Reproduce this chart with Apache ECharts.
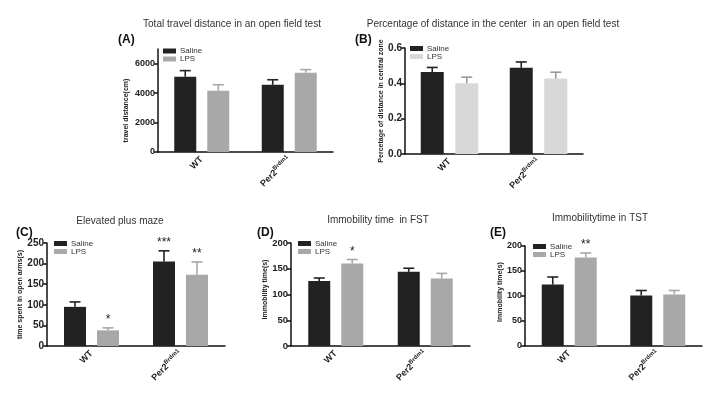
<!DOCTYPE html>
<html>
<head>
<meta charset="utf-8">
<script src="https://cdn.jsdelivr.net/npm/echarts@6/dist/echarts.min.js"></script>
<style>
  html, body { margin: 0; padding: 0; background: #fff; }
  #chart { width: 721px; height: 399px; }
</style>
</head>
<body>
<div id="chart"></div>
<script>
const categories = ["WT", "Per2^Brdm1"];

// (A) total travel distance
const aSaline = [5120, 4570];
const aSalineErr = [410, 340];
const aLps = [4160, 5390];
const aLpsErr = [410, 210];
const aTicks = [0, 2000, 4000, 6000];

// (B) percentage of distance in the center
const bSaline = [0.464, 0.488];
const bSalineErr = [0.026, 0.033];
const bLps = [0.401, 0.427];
const bLpsErr = [0.034, 0.036];
const bTicks = [0, 0.2, 0.4, 0.6];

// (C) elevated plus maze
const cSaline = [95, 205];
const cSalineErr = [12, 26];
const cLps = [38, 173];
const cLpsErr = [6, 31];
const cSalineSig = ["", "***"];
const cLpsSig = ["*", "**"];
const cTicks = [0, 50, 100, 150, 200, 250];

// (D) immobility time in FST
const dSaline = [126, 144];
const dSalineErr = [6, 7];
const dLps = [160, 131];
const dLpsErr = [8, 10];
const dLpsSig = ["*", ""];
const dTicks = [0, 50, 100, 150, 200];

// (E) immobility time in TST
const eSaline = [123, 101];
const eSalineErr = [15, 10];
const eLps = [177, 103];
const eLpsErr = [9, 8];
const eLpsSig = ["**", ""];
const eTicks = [0, 50, 100, 150, 200];

const FONT = "Liberation Sans";
const SALINE_COLOR = "#222222";
const LPS_COLOR = "#a8a8a8";
const LPS_LIGHT = "#d8d8d8";

const panels = [
  {
    tag: "(A)", title: "Total travel distance in an open field test", yName: "travel distance(cm)",
    saline: aSaline, salineErr: aSalineErr, lps: aLps, lpsErr: aLpsErr, ticks: aTicks, max: 7000,
    lpsColor: LPS_COLOR, lpsErrColor: LPS_COLOR,
    grid: { left: 158, top: 49, width: 175, height: 103 },
    titleXY: [232, 24], tagXY: [118, 40], legendXY: [163, 47],
    labelSize: 9, nameGap: 28, namePad: [0, 20, 0, 0], barW: 22,
  },
  {
    tag: "(B)", title: "Percentage of distance in the center  in an open field test",
    yName: "Percetage of distance in central zone",
    saline: bSaline, salineErr: bSalineErr, lps: bLps, lpsErr: bLpsErr, ticks: bTicks, max: 0.6,
    lpsColor: LPS_LIGHT, lpsErrColor: "#9a9a9a",
    grid: { left: 405, top: 48, width: 178, height: 106 },
    titleXY: [493, 24], tagXY: [355, 40], legendXY: [410, 44.5],
    labelSize: 10, nameGap: 18, namePad: 0, barW: 23, fmt: (v) => v.toFixed(1),
  },
  {
    tag: "(C)", title: "Elevated plus maze", yName: "time spent in open arms(s)",
    saline: cSaline, salineErr: cSalineErr, lps: cLps, lpsErr: cLpsErr, ticks: cTicks, max: 250,
    salineSig: cSalineSig, lpsSig: cLpsSig,
    lpsColor: LPS_COLOR, lpsErrColor: LPS_COLOR,
    grid: { left: 47, top: 243, width: 178, height: 103 },
    titleXY: [120, 221], tagXY: [16, 233], legendXY: [54, 239.5],
    labelSize: 10, nameGap: 21, namePad: 0, barW: 22,
  },
  {
    tag: "(D)", title: "Immobility time  in FST", yName: "Immobility time(s)",
    saline: dSaline, salineErr: dSalineErr, lps: dLps, lpsErr: dLpsErr, ticks: dTicks, max: 200,
    lpsSig: dLpsSig,
    lpsColor: LPS_COLOR, lpsErrColor: LPS_COLOR,
    grid: { left: 291, top: 243, width: 179, height: 103 },
    titleXY: [378, 220], tagXY: [257, 233], legendXY: [298, 239.5],
    labelSize: 9.5, nameGap: 22, namePad: [0, 0, 0, 10], barW: 22,
  },
  {
    tag: "(E)", title: "Immobilitytime in TST", yName: "Immobility time(s)",
    saline: eSaline, salineErr: eSalineErr, lps: eLps, lpsErr: eLpsErr, ticks: eTicks, max: 200,
    lpsSig: eLpsSig,
    lpsColor: LPS_COLOR, lpsErrColor: LPS_COLOR,
    grid: { left: 525, top: 246, width: 177, height: 100 },
    titleXY: [600, 218], tagXY: [490, 233], legendXY: [533, 242.5],
    labelSize: 9, nameGap: 21, namePad: [0, 0, 0, 8], barW: 22,
  },
];

function errorBar(offset, color, sig) {
  return function (params, api) {
    const c = api.value(0);
    const base = api.coord([c, api.value(1)]);
    const top = api.coord([c, api.value(1) + api.value(2)]);
    const x = base[0] + offset;
    const children = [
      { type: "line", shape: { x1: x, y1: base[1], x2: x, y2: top[1] }, style: { stroke: color, lineWidth: 1.6 } },
      { type: "line", shape: { x1: x - 5.5, y1: top[1], x2: x + 5.5, y2: top[1] }, style: { stroke: color, lineWidth: 1.6 } },
    ];
    const s = sig && sig[params.dataIndex];
    if (s) {
      children.push({
        type: "text", x: x, y: top[1] - 2,
        style: { text: s, fontSize: 12, fontFamily: FONT, fill: "#222", align: "center", verticalAlign: "bottom" },
      });
    }
    return { type: "group", children };
  };
}

const option = {
  animation: false,
  backgroundColor: "#fff",
  textStyle: { fontFamily: FONT },
  grid: [], xAxis: [], yAxis: [], legend: [], series: [], graphic: [],
};

panels.forEach((p, i) => {
  option.grid.push(p.grid);
  option.xAxis.push({
    type: "category", gridIndex: i, data: categories,
    axisLine: { lineStyle: { color: "#111", width: 1.5 } },
    axisTick: { alignWithLabel: true, length: 4, lineStyle: { color: "#111", width: 1.5 } },
    axisLabel: {
      interval: 0, rotate: 45, margin: 6, color: "#222",
      formatter: (v) => {
        const parts = v.split("^");
        return parts.length > 1 ? "{b|" + parts[0] + "}{s|" + parts[1] + "}" : "{b|" + v + "}";
      },
      rich: {
        b: { fontSize: 9, fontWeight: "bold", fontFamily: FONT, color: "#222", lineHeight: 12 },
        s: { fontSize: 6, fontWeight: "bold", fontFamily: FONT, color: "#222", lineHeight: 12, verticalAlign: "top" },
      },
    },
  });
  option.yAxis.push({
    type: "value", gridIndex: i, min: 0, max: p.max,
    name: p.yName, nameLocation: "middle", nameRotate: 90, nameGap: p.nameGap,
    nameTextStyle: { fontSize: 7, fontWeight: "bold", color: "#222", padding: p.namePad },
    splitLine: { show: false },
    axisLine: { show: true, lineStyle: { color: "#111", width: 1.5 } },
    axisTick: { show: true, length: 4, customValues: p.ticks, lineStyle: { color: "#111", width: 1.5 } },
    axisLabel: {
      customValues: p.ticks, margin: 3, fontSize: p.labelSize, fontWeight: "bold", color: "#222",
      formatter: p.fmt || ((v) => String(v)),
    },
  });
  option.legend.push({
    orient: "vertical", left: p.legendXY[0], top: p.legendXY[1], padding: 0,
    itemWidth: 13, itemHeight: 5, itemGap: 0, icon: "rect", selectedMode: false,
    textStyle: { fontSize: 8, lineHeight: 7, color: "#333", padding: [0, 0, 0, -1] },
    data: [
      { name: "Saline", itemStyle: { color: SALINE_COLOR } },
      { name: "LPS", itemStyle: { color: p.lpsColor } },
    ],
  });
  const off = (p.barW + p.barW / 2) / 2;
  option.series.push(
    {
      name: "Saline", type: "bar", xAxisIndex: i, yAxisIndex: i, data: p.saline,
      barWidth: p.barW, barGap: "50%", itemStyle: { color: SALINE_COLOR },
    },
    {
      name: "LPS", type: "bar", xAxisIndex: i, yAxisIndex: i, data: p.lps,
      barWidth: p.barW, barGap: "50%", itemStyle: { color: p.lpsColor },
    },
    {
      name: "Saline SEM", type: "custom", xAxisIndex: i, yAxisIndex: i, z: 5,
      data: p.saline.map((v, k) => [k, v, p.salineErr[k]]),
      encode: { x: 0, y: 1 },
      renderItem: errorBar(-off, SALINE_COLOR, p.salineSig),
    },
    {
      name: "LPS SEM", type: "custom", xAxisIndex: i, yAxisIndex: i, z: 5,
      data: p.lps.map((v, k) => [k, v, p.lpsErr[k]]),
      encode: { x: 0, y: 1 },
      renderItem: errorBar(off, p.lpsErrColor, p.lpsSig),
    }
  );
  option.graphic.push(
    {
      type: "text", x: p.titleXY[0], y: p.titleXY[1],
      style: { text: p.title, fontSize: 10, fontFamily: FONT, fill: "#333", align: "center", verticalAlign: "middle" },
    },
    {
      type: "text", x: p.tagXY[0], y: p.tagXY[1],
      style: { text: p.tag, fontSize: 12, fontWeight: "bold", fontFamily: FONT, fill: "#111", align: "left", verticalAlign: "middle" },
    }
  );
});

const chart = echarts.init(document.getElementById("chart"), null, { renderer: "canvas" });
chart.setOption(option);
</script>
</body>
</html>
